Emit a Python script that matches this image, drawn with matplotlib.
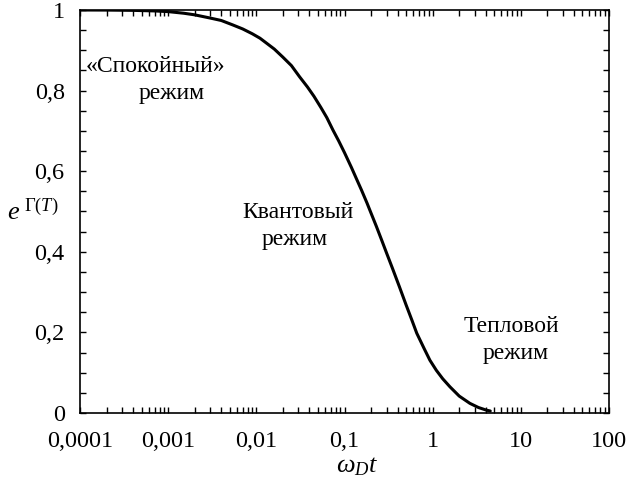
import numpy as np
import matplotlib
matplotlib.use("Agg")
import matplotlib.pyplot as plt
from matplotlib.ticker import FixedLocator, LogLocator, NullFormatter

plt.rcParams['font.family'] = ['Liberation Serif', 'DejaVu Serif']
plt.rcParams['mathtext.fontset'] = 'custom'
plt.rcParams['mathtext.rm'] = 'Liberation Serif'
plt.rcParams['mathtext.it'] = 'Liberation Serif:italic'

# curve values
omega_t = [1e-4, 2e-4, 4e-4, 7e-4, 1e-3, 0.0015, 0.002, 0.003, 0.004, 0.0054,
           0.007, 0.009, 0.011, 0.013, 0.016, 0.02, 0.025, 0.031, 0.038, 0.045,
           0.054, 0.063, 0.074, 0.086, 0.1, 0.12, 0.14, 0.156, 0.18, 0.2,
           0.23, 0.264, 0.3, 0.35, 0.42, 0.5, 0.58, 0.66, 0.8, 0.93,
           1.1, 1.3, 1.57, 2.0, 2.64, 3.3, 4.08, 4.5]
coherence = [1.0, 0.9998, 0.9991, 0.9977, 0.996, 0.992, 0.988, 0.980, 0.974, 0.963,
             0.953, 0.941, 0.930, 0.918, 0.903, 0.883, 0.862, 0.834, 0.809, 0.786,
             0.758, 0.733, 0.702, 0.675, 0.646, 0.609, 0.576, 0.553, 0.521, 0.496,
             0.463, 0.429, 0.397, 0.359, 0.313, 0.268, 0.231, 0.198, 0.160, 0.131,
             0.106, 0.085, 0.065, 0.042, 0.024, 0.0137, 0.007, 0.005]

x_ticks = [1e-4, 1e-3, 1e-2, 1e-1, 1, 10, 100]
x_labels = ['0,0001', '0,001', '0,01', '0,1', '1', '10', '100']
y_ticks = [0, 0.2, 0.4, 0.6, 0.8, 1.0]
y_labels = ['0', '0,2', '0,4', '0,6', '0,8', '1']

fig = plt.figure(figsize=(6.27, 4.82), dpi=100)
ax = fig.add_axes([80/627, 69/482, 529/627, 403/482])

ax.plot(omega_t, coherence, color='black', lw=2.2, solid_capstyle='round')

ax.set_xscale('log')
ax.set_xlim(1e-4, 100)
ax.set_ylim(0, 1)

ax.xaxis.set_major_locator(FixedLocator(x_ticks))
ax.set_xticklabels(x_labels)
ax.xaxis.set_minor_locator(LogLocator(base=10, subs=np.arange(2, 10), numticks=20))
ax.xaxis.set_minor_formatter(NullFormatter())
ax.set_yticks(y_ticks)
ax.set_yticklabels(y_labels)
ax.yaxis.set_minor_locator(FixedLocator(np.arange(0, 1.001, 0.05)))

ax.tick_params(which='both', direction='in', top=True, right=True,
               length=4, width=1, labelsize=17.5)
ax.tick_params(axis='x', which='major', pad=13)
ax.tick_params(axis='y', which='major', pad=11)
for s in ax.spines.values():
    s.set_linewidth(1.2)

fig.text(7/627, 1 - 212/482, r'$e^{\ \Gamma(T)}$', fontsize=19, va='center', ha='left')
fig.text(357/627, 1 - 467/482, r'$\omega_D t$', fontsize=19, va='center', ha='center')

txt = dict(fontsize=17, ha='center', va='center', transform=ax.transAxes)
def ax_xy(px, py):
    return (px - 80) / 529, (413 - py) / 403

ax.text(*ax_xy(155, 67), '«Спокойный»', **txt)
ax.text(*ax_xy(172, 94), 'режим', **txt)
ax.text(*ax_xy(298, 213), 'Квантовый', **txt)
ax.text(*ax_xy(295, 240), 'режим', **txt)
ax.text(*ax_xy(511, 326), 'Тепловой', **txt)
ax.text(*ax_xy(516, 353), 'режим', **txt)

fig.savefig('out.png', dpi=100)
